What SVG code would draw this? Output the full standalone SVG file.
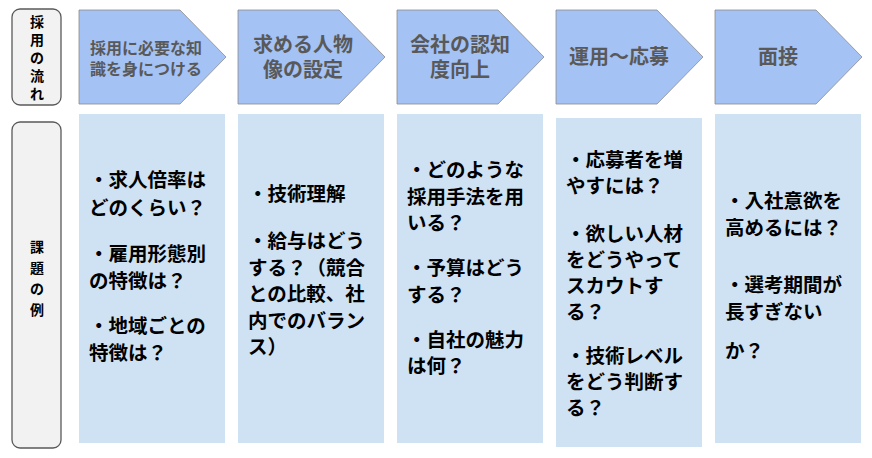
<svg xmlns="http://www.w3.org/2000/svg" width="872" height="458" viewBox="0 0 872 458">
<style>
.lab{fill:#f2f2f2;stroke:#595959;stroke-width:1.3}
.arr{fill:#a4c2f4;stroke:#8c8c8c;stroke-width:0.8}
.box{fill:#cfe2f3}
text{font-family:"Noto Sans CJK JP",sans-serif;font-weight:bold}
.h{fill:#595959;font-size:20px;text-anchor:middle}
.hs{fill:#595959;font-size:16px;text-anchor:middle}
.v{fill:#000;font-size:14px;text-anchor:middle}
.b{fill:#000;font-size:19.5px}
</style>
<g id="label-flow"><rect class="lab" x="12" y="9" width="49" height="96" rx="8"/>
<text class="v"><tspan x="37" y="27">採</tspan><tspan x="37" y="45">用</tspan><tspan x="37" y="63">の</tspan><tspan x="37" y="81">流</tspan><tspan x="37" y="99">れ</tspan></text></g>
<g id="label-issue"><rect class="lab" x="12" y="122" width="49" height="326" rx="8"/>
<text class="v"><tspan x="37" y="252">課</tspan><tspan x="37" y="273">題</tspan><tspan x="37" y="294">の</tspan><tspan x="37" y="315">例</tspan></text></g>
<g id="step1"><path class="arr" d="M79 10H180L226 57L180 104H79Z"/><text class="hs"><tspan x="146" y="54">採用に必要な知</tspan><tspan x="146" y="75">識を身につける</tspan></text></g>
<g id="step2"><path class="arr" d="M238 10H339L385 57L339 104H238Z"/><text class="h"><tspan x="303" y="52">求める人物</tspan><tspan x="303" y="77">像の設定</tspan></text></g>
<g id="step3"><path class="arr" d="M397 10H498L544 57L498 104H397Z"/><text class="h"><tspan x="460" y="52">会社の認知</tspan><tspan x="460" y="77">度向上</tspan></text></g>
<g id="step4"><path class="arr" d="M556 10H657L703 57L657 104H556Z"/><text class="h"><tspan x="619" y="64">運用～応募</tspan></text></g>
<g id="step5"><path class="arr" d="M715 10H816L862 57L816 104H715Z"/><text class="h"><tspan x="778" y="64">面接</tspan></text></g>
<g id="issue1"><rect class="box" x="79" y="114" width="146" height="329"/>
<text class="b"><tspan x="89" y="187">・求人倍率は</tspan><tspan x="89" y="215">どのくらい？</tspan><tspan x="89" y="261">・雇用形態別</tspan><tspan x="89" y="288">の特徴は？</tspan><tspan x="89" y="333">・地域ごとの</tspan><tspan x="89" y="360">特徴は？</tspan></text></g>
<g id="issue2"><rect class="box" x="238" y="114" width="146" height="329"/>
<text class="b"><tspan x="248" y="201">・技術理解</tspan><tspan x="248" y="248">・給与はどう</tspan><tspan x="248" y="275">する？（競合</tspan><tspan x="248" y="301">との比較、社</tspan><tspan x="248" y="328">内でのバラン</tspan><tspan x="248" y="354">ス）</tspan></text></g>
<g id="issue3"><rect class="box" x="397" y="114" width="146" height="329"/>
<text class="b"><tspan x="407" y="177">・どのような</tspan><tspan x="407" y="204">採用手法を用</tspan><tspan x="407" y="230">いる？</tspan><tspan x="407" y="275">・予算はどう</tspan><tspan x="407" y="302">する？</tspan><tspan x="407" y="347">・自社の魅力</tspan><tspan x="407" y="373">は何？</tspan></text></g>
<g id="issue4"><rect class="box" x="556" y="118" width="146" height="329"/>
<text class="b"><tspan x="566" y="167">・応募者を増</tspan><tspan x="566" y="193">やすには？</tspan><tspan x="566" y="241">・欲しい人材</tspan><tspan x="566" y="267">をどうやって</tspan><tspan x="566" y="293">スカウトす</tspan><tspan x="566" y="319">る？</tspan><tspan x="566" y="363">・技術レベル</tspan><tspan x="566" y="389">をどう判断す</tspan><tspan x="566" y="415">る？</tspan></text></g>
<g id="issue5"><rect class="box" x="715" y="114" width="146" height="329"/>
<text class="b"><tspan x="725" y="208">・入社意欲を</tspan><tspan x="725" y="235">高めるには？</tspan><tspan x="725" y="292">・選考期間が</tspan><tspan x="725" y="319">長すぎない</tspan><tspan x="725" y="358">か？</tspan></text></g>
<g id="connectors"/>
</svg>
